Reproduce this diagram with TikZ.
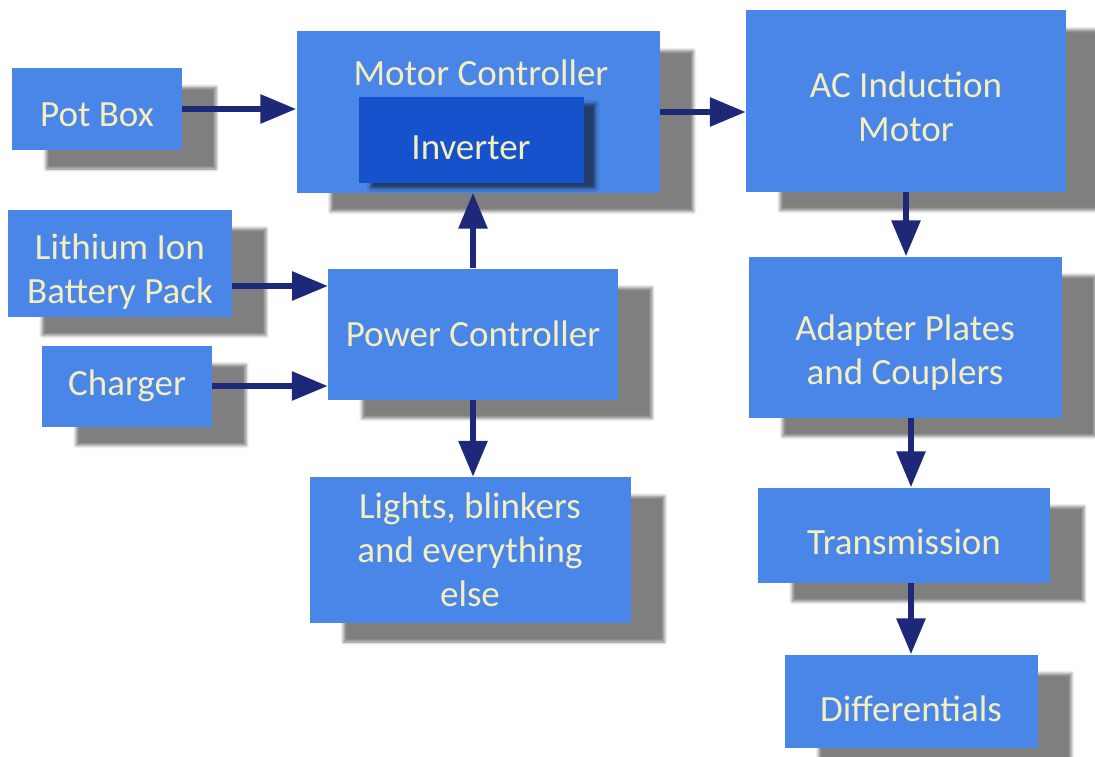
\documentclass[tikz,border=0pt]{standalone}
\usepackage{fontspec}
\setmainfont{Carlito}
\usepackage{tikz}
\usetikzlibrary{arrows.meta,shadows.blur}

\definecolor{boxblue}{RGB}{74,134,232}
\definecolor{invblue}{RGB}{22,82,204}
\definecolor{arrowblue}{RGB}{30,40,120}
\definecolor{cream}{RGB}{245,238,190}

% pushes the first line of a box down a little
\newcommand{\dn}[1]{\rule{0pt}{#1pt}}

\begin{document}
\begin{tikzpicture}[x=1pt,y=-1pt,
  lbl/.style={text=cream, align=center, inner sep=0pt, font=\fontsize{37}{44}\selectfont},
  block/.style={lbl, fill=boxblue,
    blur shadow={shadow xshift=34pt, shadow yshift=-19pt, shadow blur radius=3pt, shadow opacity=50}},
  innerblock/.style={lbl, fill=invblue,
    blur shadow={shadow xshift=12pt, shadow yshift=-6pt, shadow blur radius=3pt, shadow opacity=55}},
  flow/.style={draw=arrowblue, line width=6pt, -{Triangle[length=36pt,width=28pt]}}]

\useasboundingbox (0,0) rectangle (1095,757);

% left column
\node[block, minimum width=170pt, minimum height=82pt] (pot) at (97,109) {\dn{36}Pot Box};
\node[block, minimum width=224pt, minimum height=107pt] (battery) at (120,263) {\dn{42}Lithium Ion\\Battery Pack};
\node[block, minimum width=170pt, minimum height=81pt] (charger) at (127,386) {Charger};

% middle column
\node[block, minimum width=363pt, minimum height=161pt] (motor) at (478,112) {};
\node[lbl] (mctitle) at (481,73) {Motor Controller};
\node[innerblock, minimum width=225pt, minimum height=85pt] (inverter) at (471,140) {\dn{40}Inverter};
\node[block, minimum width=290pt, minimum height=131pt] (power) at (473,334) {Power Controller};
\node[block, minimum width=321pt, minimum height=146pt] (lights) at (470,550) {Lights, blinkers\\and everything\\else};

% right column
\node[block, minimum width=320pt, minimum height=181pt] (acmotor) at (906,101) {\dn{38}AC Induction\\Motor};
\node[block, minimum width=313pt, minimum height=161pt] (adapter) at (905,337) {\dn{56}Adapter Plates\\and Couplers};
\node[block, minimum width=292pt, minimum height=95pt] (trans) at (904,535) {\dn{39}Transmission};
\node[block, minimum width=253pt, minimum height=93pt] (diff) at (911,701) {\dn{41}Differentials};

\coordinate (battin) at (328,286);

\draw[flow] (pot.east) -- (pot.east -| motor.west);
\draw[flow] (motor.east) -- (motor.east -| acmotor.west);
\draw[flow] (battery.east |- battin) -- (battin);
\draw[flow] (charger.east) -- (charger.east -| power.west);
\draw[flow] (power.north) -- (power.north |- motor.south);
\draw[flow] (power.south) -- (power.south |- lights.north);
\draw[flow] (acmotor.south) -- (acmotor.south |- adapter.north);
\draw[flow] (diff.north |- adapter.south) -- (diff.north |- trans.north);
\draw[flow] (diff.north |- trans.south) -- (diff.north);

\end{tikzpicture}
\end{document}
